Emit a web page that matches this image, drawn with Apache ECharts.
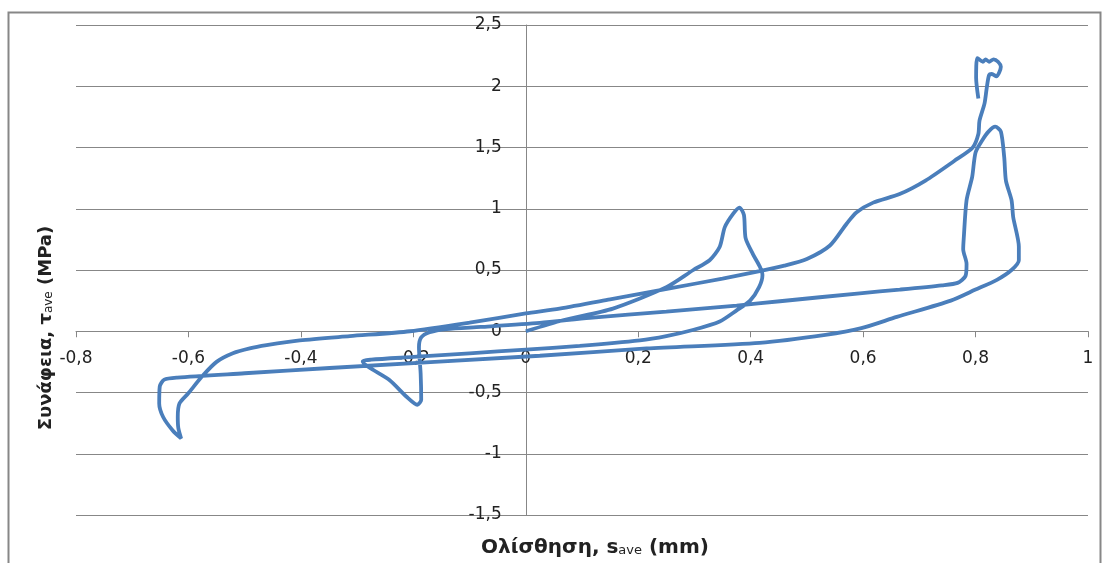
<!DOCTYPE html>
<html>
<head>
<meta charset="utf-8">
<script src="https://cdn.jsdelivr.net/npm/echarts@6/dist/echarts.min.js"></script>
<style>
  html, body { margin: 0; padding: 0; background: #fff; }
  #chart { width: 1103px; height: 563px; }
</style>
</head>
<body>
<div id="chart"></div>
<script>
// Slip s_ave (mm) and bond stress tau_ave (MPa) in path order
const slip = [
  0, 0.066, 0.155, 0.25, 0.298, 0.327, 0.345, 0.354, 0.369, 0.380,
  0.388, 0.391, 0.404, 0.416, 0.421, 0.415, 0.399, 0.375, 0.345, 0.297, 0.25, 0.203, 0.096, 0, -0.1, -0.2, -0.275,
  -0.29, -0.242, -0.212, -0.193, -0.186, -0.187, -0.19, -0.186, -0.171, -0.141,
  -0.08, 0.025, 0.114, 0.25, 0.375, 0.452, 0.594, 0.665, 0.74, 0.768, 0.782, 0.784, 0.778, 0.779, 0.784, 0.794, 0.80, 0.812, 0.823, 0.835,
  0.845, 0.851, 0.854, 0.864, 0.867, 0.877, 0.877, 0.864, 0.838, 0.80, 0.756, 0.66, 0.597, 0.533, 0.416, 0.215, 0.025, -0.349, -0.5, -0.62,
  -0.643, -0.651, -0.652, -0.645, -0.628, -0.613, -0.618, -0.619, -0.616, -0.601, -0.574, -0.55, -0.521, -0.491, -0.461, -0.402, -0.313, -0.206,
  -0.1, 0, 0.06, 0.15, 0.256, 0.35, 0.416, 0.46, 0.50, 0.541, 0.571, 0.588, 0.618, 0.665, 0.711, 0.762, 0.795, 0.805, 0.807, 0.816, 0.820, 0.824,
  0.829, 0.837, 0.845, 0.840, 0.832, 0.824, 0.818, 0.813, 0.803, 0.801, 0.805
];
const bond = [
  0, 0.09, 0.185, 0.36, 0.50, 0.58, 0.69, 0.85, 0.96, 1.01,
  0.95, 0.76, 0.63, 0.53, 0.46, 0.36, 0.25, 0.17, 0.08, 0.01, -0.04, -0.075, -0.12, -0.15, -0.18, -0.21, -0.232,
  -0.245, -0.40, -0.535, -0.60, -0.56, -0.345, -0.13, -0.05, -0.008, 0.018,
  0.035, 0.068, 0.11, 0.16, 0.21, 0.245, 0.31, 0.34, 0.375, 0.395, 0.45, 0.55, 0.67, 0.76, 1.07, 1.26, 1.46, 1.56, 1.63, 1.67,
  1.63, 1.42, 1.23, 1.07, 0.93, 0.69, 0.58, 0.50, 0.42, 0.34, 0.25, 0.117, 0.025, -0.03, -0.095, -0.14, -0.2, -0.30, -0.343, -0.378,
  -0.395, -0.45, -0.59, -0.70, -0.81, -0.875, -0.79, -0.70, -0.59, -0.51, -0.36, -0.25, -0.18, -0.14, -0.114, -0.075, -0.04, 0.0,
  0.07, 0.145, 0.185, 0.26, 0.35, 0.43, 0.49, 0.535, 0.59, 0.70, 0.88, 0.97, 1.05, 1.12, 1.23, 1.39, 1.50, 1.61, 1.72, 1.86, 1.99, 2.09,
  2.10, 2.08, 2.16, 2.20, 2.22, 2.20, 2.22, 2.20, 2.23, 2.07, 1.90
];
const xTitleMain = 'Ολίσθηση, s';
const xTitleSub = 'ave';
const xTitleEnd = ' (mm)';
const yTitleMain = 'Συνάφεια, τ';
const yTitleSub = 'ave';
const yTitleEnd = ' (MPa)';

const X_MIN = -0.8, X_MAX = 1, Y_MIN = -1.5, Y_MAX = 2.5;
const points = slip.map((s, i) => [s, bond[i]]);
const fmt = v => String(+(+v).toFixed(1)).replace('.', ',');
const FONT = 'DejaVu Sans';
const GRAY = '#878787';

const W = 1103, H = 563;
const G = { left: 76, right: 15, top: 25, bottom: 48 };
const gw = W - G.left - G.right, gh = H - G.top - G.bottom;
// shift the axes so that they cross at zero, labels included
const yAxisOffset = -gw * (0 - X_MIN) / (X_MAX - X_MIN);
const xAxisOffset = -gh * (0 - Y_MIN) / (Y_MAX - Y_MIN);

const chart = echarts.init(document.getElementById('chart'), null, { renderer: 'canvas' });
chart.setOption({
  animation: false,
  backgroundColor: '#ffffff',
  grid: { left: G.left, right: G.right, top: G.top, bottom: G.bottom, containLabel: false },
  xAxis: {
    type: 'value', min: X_MIN, max: X_MAX, interval: 0.2,
    position: 'bottom', offset: xAxisOffset,
    axisLine: { onZero: false, lineStyle: { color: GRAY, width: 1 } },
    axisTick: { show: true, inside: false, length: 6, lineStyle: { color: GRAY } },
    axisLabel: { formatter: fmt, color: '#222', fontFamily: FONT, fontSize: 17, margin: 19 },
    splitLine: { show: false }
  },
  yAxis: {
    type: 'value', min: Y_MIN, max: Y_MAX, interval: 0.5,
    position: 'left', offset: yAxisOffset,
    axisLine: { onZero: false, lineStyle: { color: GRAY, width: 1 } },
    axisTick: { show: false },
    axisLabel: { formatter: fmt, color: '#222', fontFamily: FONT, fontSize: 17, margin: 24 },
    splitLine: { show: true, lineStyle: { color: GRAY, width: 1 } }
  },
  series: [{
    type: 'line',
    data: points,
    showSymbol: false,
    smooth: 0.25,
    lineStyle: { color: '#4a7ebb', width: 3.8 },
    itemStyle: { color: '#4a7ebb' }
  }],
  graphic: [
    {
      type: 'rect', silent: true, z: -1,
      shape: { x: 8.5, y: 12.5, width: 1092, height: 570 },
      style: { fill: 'none', stroke: GRAY, lineWidth: 2 }
    },
    {
      type: 'text', x: 595, y: 548,
      style: {
        text: '{b|' + xTitleMain + '}{s|' + xTitleSub + '}{b|' + xTitleEnd + '}',
        align: 'center', verticalAlign: 'middle',
        rich: {
          b: { fontFamily: FONT, fontWeight: 'bold', fontSize: 20, fill: '#222' },
          s: { fontFamily: FONT, fontSize: 13, fill: '#222', padding: [6, 0, 0, 0] }
        }
      }
    },
    {
      type: 'text', x: 46, y: 328, rotation: Math.PI / 2,
      style: {
        text: '{b|' + yTitleMain + '}{s|' + yTitleSub + '}{b|' + yTitleEnd + '}',
        align: 'center', verticalAlign: 'middle',
        rich: {
          b: { fontFamily: FONT, fontWeight: 'bold', fontSize: 18, fill: '#222' },
          s: { fontFamily: FONT, fontSize: 12, fill: '#222', padding: [6, 0, 0, 0] }
        }
      }
    }
  ]
});
</script>
</body>
</html>
